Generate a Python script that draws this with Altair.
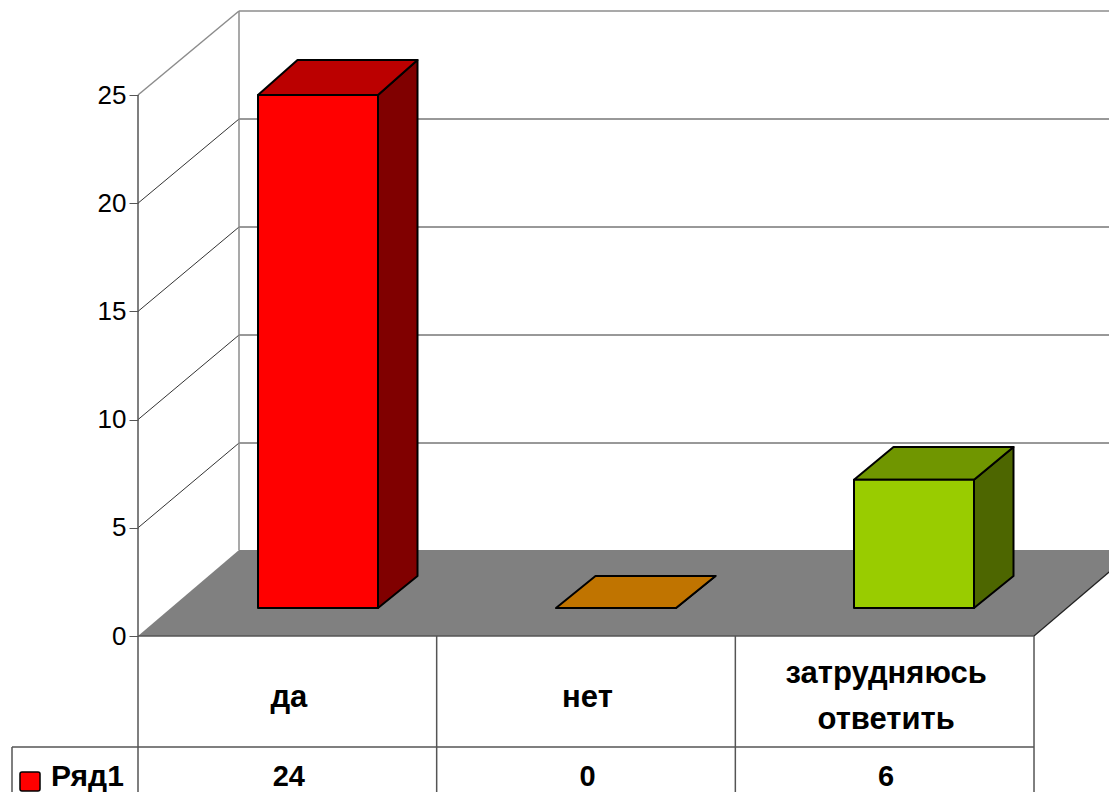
import altair as alt
import pandas as pd

# ---- chart values
categories = ["да", "нет", "затрудняюсь\nответить"]
values = [24, 0, 6]
value_labels = ["24", "0", "6"]
series_name = "Ряд1"
y_ticks = [0, 5, 10, 15, 20, 25]

# ---- colours per bar: front, top, side
front = ["#ff0000", "#ff9900", "#99cc00"]
top = ["#bb0000", "#c07400", "#709600"]
side = ["#800000", "#804d00", "#4d6600"]

# ---- layout (image pixels, converted to data units by u() and v())
W, H = 1101, 784
OX, OY = 138.0, 636.0      # value 0, first category edge
CAT = 298.67               # pixels per category
UNIT = 21.64               # pixels per value unit
BACK_DX, BACK_DY = 101.0, 86.0
BACK_WALL_UNIT = 21.6
BACK_WALL_BASE = 551.0
FONT = "Liberation Sans"
table = "#555555"


def u(px):
    return (px - OX) / CAT


def v(py):
    return (OY - py) / UNIT


xscale = alt.Scale(domain=[u(8), u(8 + W)], nice=False, zero=False)
yscale = alt.Scale(domain=[v(8 + H), v(8)], nice=False, zero=False)
yaxis = alt.Axis(
    values=y_ticks, offset=-(OX - 8), domain=False, grid=False, tickSize=9, title=None,
    tickColor=table, tickWidth=1, labelFont=FONT, labelFontSize=26, labelColor="#000000",
    labelPadding=3, labelFlush=False, labelOverlap=False)


def X(f="x", **kw):
    return alt.X(f"{f}:Q", scale=xscale, axis=None, **kw)


def Y(f="y", **kw):
    return alt.Y(f"{f}:Q", scale=yscale, axis=yaxis, **kw)


def line(pts, color, width=1.0):
    df = pd.DataFrame([{"x": a, "y": b, "o": i} for i, (a, b) in enumerate(pts)])
    return alt.Chart(df).mark_line(color=color, strokeWidth=width, clip=True).encode(
        x=X(), y=Y(), order="o:Q")


def hband(xl0, xr0, y0, xl1, xr1, y1, fill, **mk):
    """Parallelogram whose parallel edges are horizontal."""
    df = pd.DataFrame([{"x": xl0, "x2": xr0, "y": y0}, {"x": xl1, "x2": xr1, "y": y1}])
    return alt.Chart(df).mark_area(color=fill, orient="horizontal", clip=True, **mk).encode(
        x=X(), x2="x2:Q", y=Y(stack=None))


def vband(x0, yb0, yt0, x1, yb1, yt1, fill, **mk):
    """Parallelogram whose parallel edges are vertical."""
    df = pd.DataFrame([{"x": x0, "y": yb0, "y2": yt0}, {"x": x1, "y": yb1, "y2": yt1}])
    return alt.Chart(df).mark_area(color=fill, orient="vertical", clip=True, **mk).encode(
        x=X(), y=Y(stack=None), y2="y2:Q")


def rect(x0, x1, y0, y1, fill, **mk):
    df = pd.DataFrame([{"x": x0, "x2": x1, "y": y0, "y2": y1}])
    return alt.Chart(df).mark_rect(color=fill, **mk).encode(
        x=X(), x2="x2:Q", y=Y(), y2="y2:Q")


def text(x, y, s, size, weight="bold", align="center", **mk):
    df = pd.DataFrame([{"x": x, "y": y, "t": s}])
    return alt.Chart(df).mark_text(font=FONT, fontSize=size, fontWeight=weight, align=align,
                                   baseline="middle", color="#000000", lineBreak="\n", **mk).encode(
        x=X(), y=Y(), text="t:N")


layers = []
dark = "#333333"
wall = "#8c8c8c"
bdx, bdy = BACK_DX / CAT, BACK_DY / UNIT
wall_y = lambda t: v(BACK_WALL_BASE) + t * BACK_WALL_UNIT / UNIT

# walls
for t in y_ticks[1:]:
    c, w = (wall, 1.5) if t == y_ticks[-1] else (dark, 1.0)
    layers.append(line([(0, t), (bdx, wall_y(t))], c, w))
    layers.append(line([(bdx, wall_y(t)), (u(1117), wall_y(t))], c, w))
layers.append(line([(bdx, bdy), (bdx, wall_y(y_ticks[-1]))], wall, 1.5))
layers.append(line([(0, 0), (0, y_ticks[-1])], table, 1.5))

# floor
n = len(categories)
layers.append(hband(0, n, 0, bdx, n + bdx, bdy, "#808080"))
layers.append(line([(n, 0), (n + bdx, bdy)], "#222222", 1.2))

# bars
FRONT_S, BACK_S = 21.37, 21.5
BAR_L, BAR_W = u(258), 120.0 / CAT
BAR_DX = 39.5 / CAT
base_f, base_b = v(608), v(576)
stroke = dict(stroke="#000000", strokeWidth=2, strokeJoin="round")
for i, val in enumerate(values):
    xl = BAR_L + i * 298.0 / CAT
    xr = xl + BAR_W
    tf = base_f + val * FRONT_S / UNIT
    tb = base_b + val * BACK_S / UNIT
    layers.append(vband(xr, base_f, tf, xr + BAR_DX, base_b, tb, side[i], **stroke))
    layers.append(hband(xl, xr, tf, xl + BAR_DX, xr + BAR_DX, tb, top[i], **stroke))
    if val > 0:
        layers.append(rect(xl, xr, base_f, tf, front[i], **stroke))

# data table
t_rows = [v(636), v(747), v(8 + H)]
layers.append(line([(0, t_rows[0]), (n, t_rows[0])], table, 1.5))
layers.append(line([(u(12), t_rows[1]), (n, t_rows[1])], table, 1.5))
layers.append(line([(u(12), t_rows[1]), (u(12), t_rows[2])], table, 1.5))
for i in range(n + 1):
    layers.append(line([(i, t_rows[0]), (i, t_rows[2])], table, 1.5))
for i in range(n):
    first_line_y = 674 if "\n" in categories[i] else 698
    layers.append(text(i + 0.505, v(first_line_y), categories[i], 31, lineHeight=46))
    layers.append(text(i + 0.505, v(777), value_labels[i], 29))

# legend key
layers.append(rect(u(20), u(40), v(791), v(772), front[0], stroke="#000000", strokeWidth=1.5, cornerRadius=2))
layers.append(text(u(51), v(777), series_name, 30, align="left"))

chart = alt.layer(*layers).resolve_scale(x="shared", y="shared").properties(
    width=W, height=H, padding=0, autosize="none", background="white"
).configure_view(stroke=None)

chart.save("out.html", embed_options={"renderer": "svg", "actions": False})
